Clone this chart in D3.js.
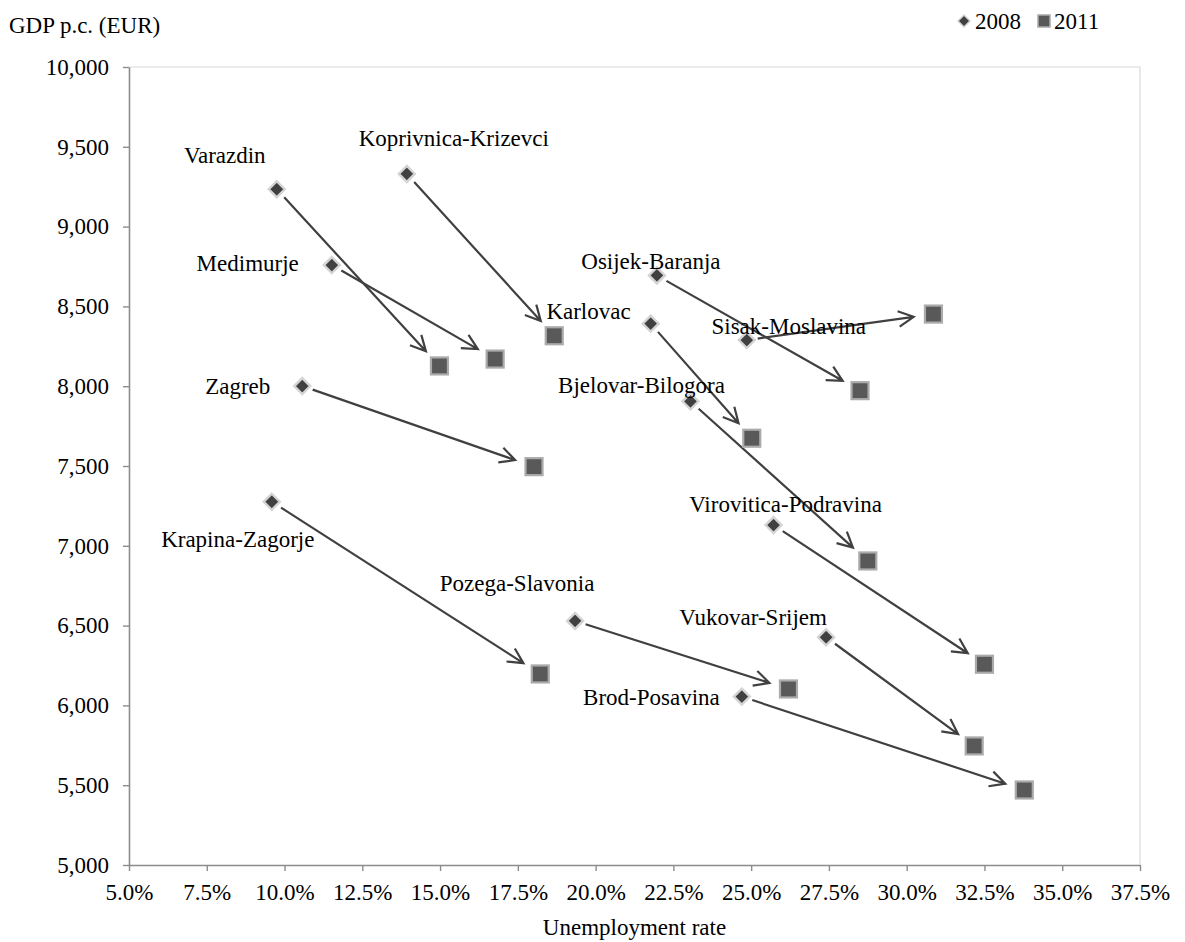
<!DOCTYPE html>
<html>
<head>
<meta charset="utf-8">
<script src="https://cdn.jsdelivr.net/npm/d3@7"></script>
<style>
  html, body { margin: 0; padding: 0; background: #ffffff; }
  text { font-family: "Liberation Serif", "Times New Roman", serif; fill: #000; }
</style>
</head>
<body>
<svg id="chart" width="1185" height="942"></svg>
<script>
// ---------------- DATA ----------------
const regions = ["Varazdin", "Koprivnica-Krizevci", "Medimurje", "Zagreb", "Krapina-Zagorje",
  "Osijek-Baranja", "Karlovac", "Sisak-Moslavina", "Bjelovar-Bilogora", "Virovitica-Podravina",
  "Pozega-Slavonia", "Vukovar-Srijem", "Brod-Posavina"];
const unemp2008 = [9.75, 13.93, 11.52, 10.57, 9.59, 21.97, 21.77, 24.86, 23.05, 25.72, 19.34, 27.41, 24.70];
const gdp2008   = [9234, 9330, 8759, 8001, 7276, 8694, 8392, 8289, 7905, 7130, 6529, 6427, 6055];
const unemp2011 = [14.98, 18.67, 16.77, 18.02, 18.22, 28.50, 25.02, 30.86, 28.75, 32.50, 26.20, 32.17, 33.78];
const gdp2011   = [8127, 8316, 8170, 7496, 6197, 7972, 7674, 8452, 6905, 6258, 6103, 5746, 5470];
const xTicks = [5.0, 7.5, 10.0, 12.5, 15.0, 17.5, 20.0, 22.5, 25.0, 27.5, 30.0, 32.5, 35.0, 37.5];
const yTicks = [5000, 5500, 6000, 6500, 7000, 7500, 8000, 8500, 9000, 9500, 10000];
const seriesNames = ["2008", "2011"];
const xTitle = "Unemployment rate";
const yTitle = "GDP p.c. (EUR)";

// ---------------- LAYOUT (label placement relative to the 2008 marker, px) ----------------
const labelLayout = [
  {anchor: "middle", dx: -52, dy: -34},
  {anchor: "middle", dx: 47,  dy: -36},
  {anchor: "end",    dx: -33, dy: -2},
  {anchor: "end",    dx: -32, dy: 0},
  {anchor: "middle", dx: -34, dy: 38},
  {anchor: "middle", dx: -6,  dy: -14},
  {anchor: "end",    dx: -20, dy: -12},
  {anchor: "middle", dx: 42,  dy: -14},
  {anchor: "middle", dx: -49, dy: -16},
  {anchor: "middle", dx: 12,  dy: -21},
  {anchor: "middle", dx: -58, dy: -38},
  {anchor: "middle", dx: -73, dy: -20},
  {anchor: "end",    dx: -22, dy: 1}
];

// ---------------- DRAW ----------------
const svg = d3.select("#chart");
const m = {left: 129, right: 1140, top: 67, bottom: 865};
const fs = 23;

const x = d3.scaleLinear().domain([5, 37.5]).range([m.left, m.right]);
const y = d3.scaleLinear().domain([5000, 10000]).range([m.bottom, m.top]);

// plot border (top & right)
svg.append("path")
  .attr("d", `M${m.left},${m.top}H${m.right}V${m.bottom}`)
  .attr("fill", "none").attr("stroke", "#d9d9d9").attr("stroke-width", 1.2);

// axes
const xAxis = svg.append("g").attr("transform", `translate(0,${m.bottom})`)
  .call(d3.axisBottom(x).tickValues(xTicks).tickFormat(d => d.toFixed(1) + "%")
    .tickSize(6).tickSizeOuter(0).tickPadding(13));
const yAxis = svg.append("g").attr("transform", `translate(${m.left},0)`)
  .call(d3.axisLeft(y).tickValues(yTicks).tickFormat(d3.format(",")).tickSize(6).tickSizeOuter(0).tickPadding(14));
[xAxis, yAxis].forEach(g => {
  g.selectAll("path.domain").attr("stroke", "#8c8c8c").attr("stroke-width", 1.6);
  g.selectAll(".tick line").attr("stroke", "#8c8c8c").attr("stroke-width", 1.4);
  g.selectAll(".tick text").attr("font-family", "Liberation Serif, Times New Roman, serif")
    .attr("font-size", fs).attr("fill", "#000");
});

// axis titles
svg.append("text").attr("x", (m.left + m.right) / 2).attr("y", 935)
  .attr("text-anchor", "middle").attr("font-size", fs).text(xTitle);
svg.append("text").attr("x", 9).attr("y", 33)
  .attr("text-anchor", "start").attr("font-size", fs).text(yTitle);

// data rows
const rows = regions.map((r, i) => ({
  name: r,
  x0: unemp2008[i], y0: gdp2008[i],
  x1: unemp2011[i], y1: gdp2011[i],
  lab: labelLayout[i]
}));

// arrows
const arrowCol = "#404040";
const startGap = 11, endGap = 20, headLen = 17, headAng = 27 * Math.PI / 180;
const ag = svg.append("g");
rows.forEach(d => {
  const px0 = x(d.x0), py0 = y(d.y0), px1 = x(d.x1), py1 = y(d.y1);
  const dxp = px1 - px0, dyp = py1 - py0;
  const L = Math.hypot(dxp, dyp);
  const ux = dxp / L, uy = dyp / L;
  const sx = px0 + ux * startGap, sy = py0 + uy * startGap;
  const tx = px1 - ux * endGap, ty = py1 - uy * endGap;
  const back = Math.atan2(-uy, -ux);
  const a1 = back + headAng, a2 = back - headAng;
  ag.append("path")
    .attr("d", `M${sx},${sy}L${tx},${ty}`
      + `M${tx + Math.cos(a1) * headLen},${ty + Math.sin(a1) * headLen}L${tx},${ty}`
      + `L${tx + Math.cos(a2) * headLen},${ty + Math.sin(a2) * headLen}`)
    .attr("fill", "none").attr("stroke", arrowCol).attr("stroke-width", 2.2)
    .attr("stroke-linejoin", "miter").attr("stroke-linecap", "butt");
});

// 2011 squares
const sq = 17;
svg.append("g").selectAll("rect").data(rows).join("rect")
  .attr("x", d => x(d.x1) - sq / 2).attr("y", d => y(d.y1) - sq / 2)
  .attr("width", sq).attr("height", sq)
  .attr("fill", "#595959").attr("stroke", "#ababab").attr("stroke-width", 2.2);

// 2008 diamonds
const dh = 8;
const diamond = (cx, cy, h) => `M${cx},${cy - h}L${cx + h},${cy}L${cx},${cy + h}L${cx - h},${cy}Z`;
svg.append("g").selectAll("path").data(rows).join("path")
  .attr("d", d => diamond(x(d.x0), y(d.y0), dh))
  .attr("fill", "#404040").attr("stroke", "#d4d4d4").attr("stroke-width", 2.4);

// region labels
svg.append("g").selectAll("text").data(rows).join("text")
  .attr("x", d => x(d.x0) + d.lab.dx)
  .attr("y", d => y(d.y0) + d.lab.dy)
  .attr("dy", "0.33em")
  .attr("text-anchor", d => d.lab.anchor)
  .attr("font-size", fs)
  .text(d => d.name);

// legend
const lg = svg.append("g");
lg.append("path").attr("d", diamond(964, 21, 6)).attr("fill", "#404040").attr("stroke", "#d4d4d4").attr("stroke-width", 1.5);
lg.append("text").attr("x", 975).attr("y", 29).attr("font-size", fs).text(seriesNames[0]);
lg.append("rect").attr("x", 1038).attr("y", 15).attr("width", 12).attr("height", 12)
  .attr("fill", "#595959").attr("stroke", "#ababab").attr("stroke-width", 1.5);
lg.append("text").attr("x", 1054).attr("y", 29).attr("font-size", fs).text(seriesNames[1]);
</script>
</body>
</html>
